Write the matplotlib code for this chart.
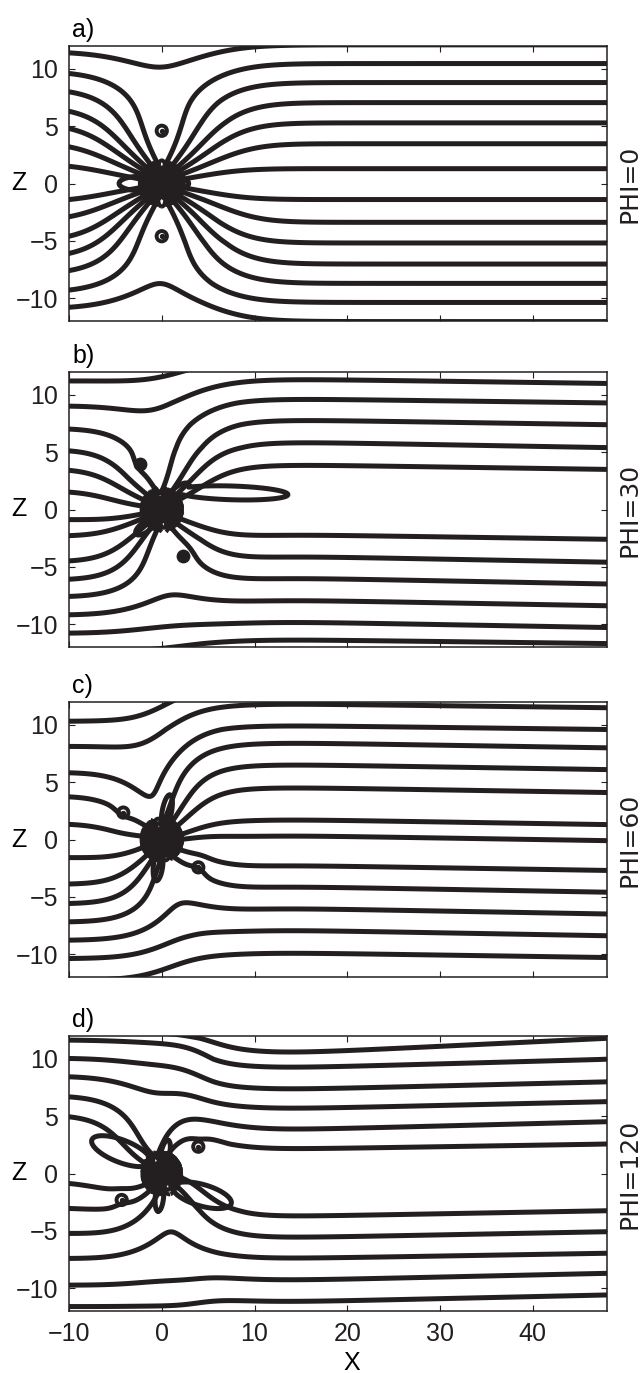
import numpy as np
import matplotlib.pyplot as plt

plt.rcParams['font.family'] = ['Liberation Sans', 'DejaVu Sans']
plt.rcParams['contour.negative_linestyle'] = 'solid'

phi = [0, 30, 60, 120]
tags = ['a)', 'b)', 'c)', 'd)']

# field lines crossing the whole frame: height at x=-10 and at x=48
through_left = [
    [11.4, 9.6, 8.0, 6.3, 4.8, 3.2, 1.5, -1.4, -2.9, -4.6, -6.1, -7.6, -9.3, -10.8],
    [11.2, 9.0, 7.0, 5.1, 3.4, 1.5, -4.5, -6.1, -7.6, -9.2, -10.8, -12.6],
    [10.3, 8.1, 5.8, -5.6, -7.2, -8.8, -10.4, -12.3],
    [13.4, 11.65, 10.05, 8.45, 6.7, 4.96, -3.04, -5.22, -7.4, -9.73, -11.6],
]
through_right = [
    [12.1, 10.47, 8.81, 7.06, 5.29, 3.47, 1.29, -1.40, -3.39, -5.19, -7.03, -8.72, -10.38, -12.05],
    [13.0, 11.0, 9.3, 7.4, 5.4, 3.5, -2.6, -4.6, -6.5, -8.4, -10.3, -11.7],
    [13.3, 11.5, 9.6, -2.7, -4.6, -6.5, -8.4, -10.3],
    [11.8, 9.97, 8.0, 6.27, 4.52, 2.57, -3.25, -5.08, -6.96, -8.71, -10.6],
]
# lines ending in the central knot (only seen left / right of it)
left_only = [[], [-0.9, -2.3], [3.7, 1.3, -1.6, -3.9], [-0.86]]
right_only = [[], [], [8.0, 6.1, 4.1, 1.3, -0.1], []]

# small islands (x, z), how strongly lines bend round them, filled or ringed
islands = [
    [(0.0, 4.6), (0.0, -4.6)],
    [(-2.35, 3.94), (2.32, -4.03)],
    [(-4.15, 2.35), (3.94, -2.43)],
    [(3.94, 2.34), (-4.32, -2.31)],
]
island_push = [0.0, 0.35, 0.35, 0.35]
island_filled = [False, True, False, False]
# closed lobes: base, tip, half width
lobes = [
    [((-0.3, 0.0), (-4.6, 0.0), 0.62), ((0.3, 0.0), (2.9, 0.0), 0.5)],
    [((1.5, 1.6), (13.6, 1.3), 0.6), ((0.8, 1.0), (2.9, 2.2), 0.45),
     ((-0.8, -1.0), (-2.8, -2.1), 0.45)],
    [((0.2, 1.0), (0.9, 3.9), 0.5), ((-0.2, -1.0), (-0.6, -3.6), 0.5)],
    [((-1.2, 1.0), (-7.55, 2.9), 1.0), ((1.2, -1.2), (7.5, -2.6), 0.95),
     ((0.1, 0.8), (0.7, 2.9), 0.45), ((-0.1, -0.8), (-0.4, -3.3), 0.45)],
]
# knot strength, size, tilt, visible radius (x, z); far-field transition
knot_k = [8.8, 6.5, 5.0, 5.5]
knot_r = [7.5, 6.0, 5.5, 6.0]
knot_tilt = [0, 8, 15, 30]
knot_size = [(2.6, 2.1), (2.4, 2.0), (2.4, 2.0), (2.3, 2.0)]
bend_x = [6, 3, 1, 4]
bend_w = [5, 5, 4, 3]
# slight slope of the lines far to the right (z per unit x)
tail_slope = [0.0, -0.012, -0.012, 0.018]

col = '#231f20'
lw = 3.6

x = np.linspace(-10.5, 48.5, 1181)
z = np.linspace(-12.5, 12.5, 501)
X, Z = np.meshgrid(x, z)
ileft = np.argmin(np.abs(x + 10))

fig = plt.figure(figsize=(6.41, 13.73), dpi=100)
tops = [46, 372, 702, 1036]
H = 1373.0

for i in range(4):
    top = tops[i]
    ax = fig.add_axes([69 / 641, 1 - (top + 275) / H, 538 / 641, 275 / H])

    r = np.hypot(X, Z)
    th = np.arctan2(Z, X)
    core = knot_k[i] * np.sin(th - np.radians(knot_tilt[i])) * np.exp(-(r / knot_r[i]) ** 2)
    for xi, zi in islands[i]:
        sg = 1.0 if zi > 0 else -1.0
        core += sg * island_push[i] * np.exp(-((X - xi) ** 2 + (Z - zi) ** 2) / 1.2)

    # levels read on the left edge
    left_col = Z[:, ileft] + core[:, ileft]
    lv_t = np.interp(through_left[i], z, left_col)
    lv_l = np.interp(left_only[i], z, left_col) if left_only[i] else []

    zr = np.array(through_right[i])
    o = np.argsort(zr)
    zr_s = np.r_[zr[o][0] - 40, zr[o], zr[o][-1] + 40]
    lv_s = np.r_[lv_t[o][0] - 40, lv_t[o], lv_t[o][-1] + 40]
    s = 0.5 * (1 + np.tanh((X - bend_x[i]) / bend_w[i]))
    t = 0.5 * (1 + np.tanh((X - 6) / 7))
    base = (1 - s) * Z + s * np.interp(Z, zr_s, lv_s) - tail_slope[i] * (X - 48) * t
    psi = base + core

    ax.contour(X, Z, psi, levels=np.sort(lv_t), colors=col, linewidths=lw)
    if len(lv_l):
        ax.contour(X, Z, np.ma.masked_where(X > 0, psi), levels=np.sort(lv_l),
                   colors=col, linewidths=lw)
    if right_only[i]:
        lv_r = np.interp(right_only[i], zr_s, lv_s)
        ax.contour(X, Z, np.ma.masked_where(X < 0, psi), levels=np.sort(lv_r),
                   colors=col, linewidths=lw)

    # dense knot of lines at the centre
    ka, kb = knot_size[i]
    inside = (X / ka) ** 2 + (Z / kb) ** 2 < 1
    kl = np.linspace(-0.97, 0.97, 50) * knot_k[i]
    ax.contour(X, Z, np.ma.masked_where(~inside, core), levels=kl,
               colors=col, linewidths=lw * 0.8)

    # lobes
    E = np.full(X.shape, 10.0)
    for (bx, bz), (tx, tz), hw in lobes[i]:
        L = np.hypot(tx - bx, tz - bz)
        ux, uz = (tx - bx) / L, (tz - bz) / L
        u = (X - bx) * ux + (Z - bz) * uz
        v = -(X - bx) * uz + (Z - bz) * ux
        E = np.minimum(E, ((u - L / 2) / (L / 2)) ** 2 + (v / hw) ** 2)
    ax.contour(X, Z, E, levels=[1.0], colors=col, linewidths=lw)

    ix = [p[0] for p in islands[i]]
    iz = [p[1] for p in islands[i]]
    if island_filled[i]:
        ax.scatter(ix, iz, s=80, color=col, zorder=3)
    else:
        ax.scatter(ix, iz, s=55, facecolors='none', edgecolors=col, linewidths=2.8, zorder=3)
        ax.scatter(ix, iz, s=8, color=col, zorder=3)

    ax.set_xlim(-10, 48)
    ax.set_ylim(-12, 12)
    ax.set_xticks([-10, 0, 10, 20, 30, 40])
    ax.set_yticks([-10, -5, 0, 5, 10])
    ax.tick_params(direction='in', top=True, right=True, length=4, width=0.8,
                   labelsize=18, pad=8, colors='#231f20')
    if i < 3:
        ax.tick_params(labelbottom=False)
    for sp in ax.spines.values():
        sp.set_linewidth(1.1)
        sp.set_color(col)

    ax.set_ylabel('Z', rotation=0, fontsize=18, va='center', ha='center')
    ax.yaxis.set_label_coords(-0.093, 0.5)
    ax.text(0.006, 1 + 9 / 275, tags[i], transform=ax.transAxes, fontsize=18,
            va='baseline', ha='left')
    ax.text(1.041, 0.5, 'PHI=%d' % phi[i], transform=ax.transAxes, rotation=90,
            fontsize=18, va='center', ha='center', family='DejaVu Sans', color='#231f20')
    if i == 3:
        ax.set_xlabel('X', fontsize=18, va='center')
        ax.xaxis.set_label_coords(0.526, -0.19)

fig.savefig('out.png', dpi=100)
